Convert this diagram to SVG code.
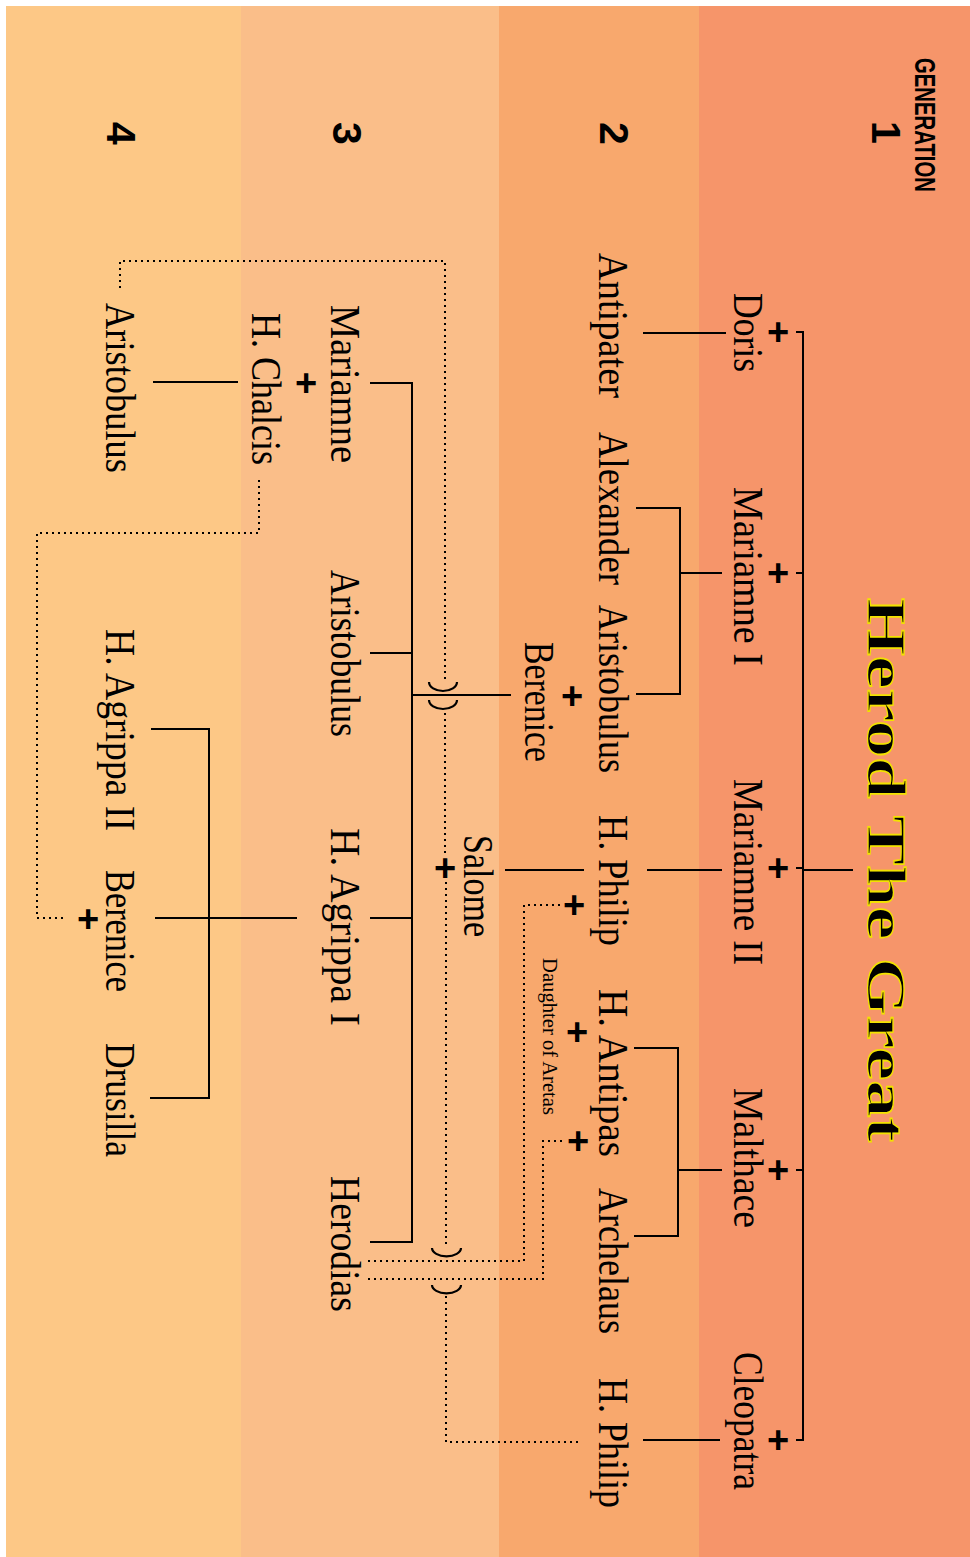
<svg xmlns="http://www.w3.org/2000/svg" width="970" height="1557" viewBox="0 0 970 1557">
<style>
.n{font-family:"Liberation Serif","Times New Roman",serif;font-size:42px;fill:#000}
.s{font-family:"Liberation Serif","Times New Roman",serif;font-size:20px;fill:#000}
.g{font-family:"Liberation Sans",Arial,sans-serif;font-weight:bold;fill:#000}
.p{font-family:"Liberation Sans",Arial,sans-serif;font-weight:bold;font-size:38px;fill:#000;text-anchor:middle}
.t{font-family:"Liberation Serif","Times New Roman",serif;font-weight:bold;font-size:54px;fill:#000;stroke:#f2e200;stroke-width:1.3px}
.l{fill:none;stroke:#000;stroke-width:2}
.d{fill:none;stroke:#000;stroke-width:2;stroke-dasharray:2 4}
.a{fill:none;stroke:#000;stroke-width:2.2}
</style>
<g id="background">
<rect x="6" y="6" width="235" height="1551" fill="#FDC886"/>
<rect x="241" y="6" width="258" height="1551" fill="#FABE89"/>
<rect x="499" y="6" width="200" height="1551" fill="#F8A86D"/>
<rect x="699" y="6" width="271" height="1551" fill="#F6956A"/>
</g>
<g id="headers">
<text class="g" x="915" y="58" font-size="30" transform="rotate(90 915 58)" textLength="134" lengthAdjust="spacingAndGlyphs">GENERATION</text>
<text class="g" x="872" y="121" font-size="41" transform="rotate(90 872 121)">1</text>
<text class="g" x="600" y="122" font-size="41" transform="rotate(90 600 122)">2</text>
<text class="g" x="333" y="122" font-size="41" transform="rotate(90 333 122)">3</text>
<text class="g" x="107" y="122" font-size="41" transform="rotate(90 107 122)">4</text>
</g>
<g id="connectors">
<path class="l" d="M796 332H803V1440H796M796 573H803M796 868H803M796 1170H803M803 870H853"/>
<path class="l" d="M643 333H726"/>
<path class="l" d="M722 573H680M636 508H680V694H636"/>
<path class="l" d="M647 870H722"/>
<path class="l" d="M722 1170H678M634 1048H678V1236H634"/>
<path class="l" d="M643 1440H720"/>
<path class="l" d="M511 695H412M370 383H412V1242H370M370 653H412M370 918H412"/>
<path class="l" d="M505 870H584"/>
<path class="l" d="M153 382H238"/>
<path class="l" d="M297 918H155M151 729H209V1098H150"/>
<path class="d" d="M63 918H37V533H259V478"/>
<path class="d" d="M120 288V261H445V680"/>
<path class="a" d="M429 682A14 9 0 0 0 457 682"/>
<path class="a" d="M429 700A14 9 0 0 0 457 700"/>
<path class="d" d="M445 713V855"/>
<path class="d" d="M446 882V1246"/>
<path class="a" d="M432 1248A14 8 0 0 0 461 1248"/>
<path class="a" d="M432 1285A14 8 0 0 0 461 1285"/>
<path class="d" d="M446 1296V1442H578"/>
<path class="d" d="M368 1261H524V905H560"/>
<path class="d" d="M368 1279H543V1141H565"/>
</g>
<g id="herod">
<text class="t" x="868" y="598" transform="rotate(90 868 598)" textLength="544" lengthAdjust="spacingAndGlyphs">Herod The Great</text>
</g>
<g id="doris"><text class="p" x="778" y="345">+</text><text class="n" x="734" y="293" transform="rotate(90 734 293)" textLength="79" lengthAdjust="spacingAndGlyphs">Doris</text></g>
<g id="mariamne1"><text class="p" x="778" y="586">+</text><text class="n" x="734" y="487" transform="rotate(90 734 487)" textLength="179" lengthAdjust="spacingAndGlyphs">Mariamne I</text></g>
<g id="mariamne2"><text class="p" x="778" y="881">+</text><text class="n" x="734" y="779" transform="rotate(90 734 779)" textLength="186" lengthAdjust="spacingAndGlyphs">Mariamne II</text></g>
<g id="malthace"><text class="p" x="778" y="1183">+</text><text class="n" x="734" y="1088" transform="rotate(90 734 1088)" textLength="140" lengthAdjust="spacingAndGlyphs">Malthace</text></g>
<g id="cleopatra"><text class="p" x="778" y="1453">+</text><text class="n" x="734" y="1352" transform="rotate(90 734 1352)" textLength="138" lengthAdjust="spacingAndGlyphs">Cleopatra</text></g>
<g id="antipater"><text class="n" x="599" y="253" transform="rotate(90 599 253)" textLength="145" lengthAdjust="spacingAndGlyphs">Antipater</text></g>
<g id="alexander"><text class="n" x="599" y="432" transform="rotate(90 599 432)" textLength="153" lengthAdjust="spacingAndGlyphs">Alexander</text></g>
<g id="aristobulus2"><text class="n" x="599" y="605" transform="rotate(90 599 605)" textLength="168" lengthAdjust="spacingAndGlyphs">Aristobulus</text></g>
<g id="berenice2"><text class="p" x="572" y="709">+</text><text class="n" x="525" y="642" transform="rotate(90 525 642)" textLength="120" lengthAdjust="spacingAndGlyphs">Berenice</text></g>
<g id="hphilip1"><text class="p" x="574" y="918">+</text><text class="n" x="599" y="815" transform="rotate(90 599 815)" textLength="131" lengthAdjust="spacingAndGlyphs">H. Philip</text></g>
<g id="hantipas"><text class="p" x="577" y="1045">+</text><text class="p" x="578" y="1154">+</text><text class="n" x="599" y="989" transform="rotate(90 599 989)" textLength="168" lengthAdjust="spacingAndGlyphs">H. Antipas</text></g>
<g id="daughter"><text class="s" x="543" y="958" transform="rotate(90 543 958)" textLength="157" lengthAdjust="spacingAndGlyphs">Daughter of Aretas</text></g>
<g id="archelaus"><text class="n" x="599" y="1188" transform="rotate(90 599 1188)" textLength="146" lengthAdjust="spacingAndGlyphs">Archelaus</text></g>
<g id="hphilip2"><text class="n" x="599" y="1378" transform="rotate(90 599 1378)" textLength="130" lengthAdjust="spacingAndGlyphs">H. Philip</text></g>
<g id="mariamne3"><text class="n" x="331" y="305" transform="rotate(90 331 305)" textLength="158" lengthAdjust="spacingAndGlyphs">Mariamne</text></g>
<g id="hchalcis"><text class="p" x="306" y="396">+</text><text class="n" x="252" y="313" transform="rotate(90 252 313)" textLength="152" lengthAdjust="spacingAndGlyphs">H. Chalcis</text></g>
<g id="aristobulus3"><text class="n" x="331" y="570" transform="rotate(90 331 570)" textLength="167" lengthAdjust="spacingAndGlyphs">Aristobulus</text></g>
<g id="hagrippa1"><text class="n" x="331" y="828" transform="rotate(90 331 828)" textLength="198" lengthAdjust="spacingAndGlyphs">H. Agrippa I</text></g>
<g id="herodias"><text class="n" x="331" y="1176" transform="rotate(90 331 1176)" textLength="136" lengthAdjust="spacingAndGlyphs">Herodias</text></g>
<g id="salome"><text class="p" x="445" y="881">+</text><text class="n" x="464" y="835" transform="rotate(90 464 835)" textLength="102" lengthAdjust="spacingAndGlyphs">Salome</text></g>
<g id="aristobulus4"><text class="n" x="106" y="303" transform="rotate(90 106 303)" textLength="170" lengthAdjust="spacingAndGlyphs">Aristobulus</text></g>
<g id="hagrippa2"><text class="n" x="106" y="629" transform="rotate(90 106 629)" textLength="202" lengthAdjust="spacingAndGlyphs">H. Agrippa II</text></g>
<g id="berenice4"><text class="p" x="88" y="932">+</text><text class="n" x="106" y="870" transform="rotate(90 106 870)" textLength="122" lengthAdjust="spacingAndGlyphs">Berenice</text></g>
<g id="drusilla"><text class="n" x="106" y="1043" transform="rotate(90 106 1043)" textLength="114" lengthAdjust="spacingAndGlyphs">Drusilla</text></g>
</svg>
